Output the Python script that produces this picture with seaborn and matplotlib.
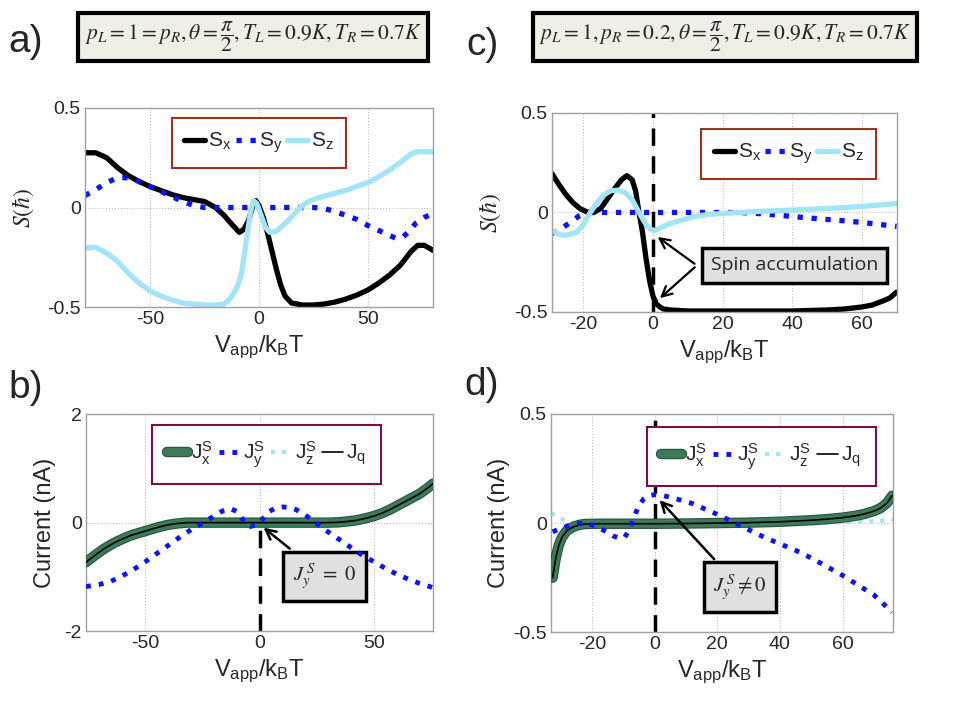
import numpy as np
import pandas as pd
import seaborn as sns
import matplotlib.pyplot as plt
import matplotlib.patheffects as pe

# ---------------- data ----------------
# panel a: spin accumulation, p_L = p_R = 1
xa_sx = [-80, -75, -70, -65, -60, -55, -50, -45, -40, -35, -30, -25, -20, -16, -12, -9, -7, -5, -3,
         -1.5, 0, 2, 4, 6, 8, 10, 12, 15, 20, 25, 30, 35, 40, 45, 50, 55, 60, 65, 70, 73, 76, 80]
sx_a = [0.275, 0.275, 0.25, 0.2, 0.16, 0.13, 0.105, 0.085, 0.065, 0.05, 0.04, 0.03, 0.0, -0.04, -0.09,
        -0.125, -0.11, -0.07, 0.0, 0.035, 0.01, -0.05, -0.13, -0.22, -0.31, -0.39, -0.445, -0.48, -0.49,
        -0.49, -0.485, -0.475, -0.46, -0.44, -0.415, -0.38, -0.34, -0.29, -0.22, -0.19, -0.19, -0.215]
xa_sy = [-80, -75, -70, -65, -60, -55, -50, -45, -40, -35, -30, -25, -20, -10, 0, 10, 20, 25, 30, 35,
         40, 45, 50, 55, 60, 63, 66, 69, 72, 76, 80]
sy_a = [0.06, 0.09, 0.125, 0.15, 0.15, 0.13, 0.105, 0.08, 0.055, 0.03, 0.01, 0.0, 0.0, 0.0, 0.0, 0.0,
        0.0, 0.0, -0.005, -0.02, -0.04, -0.06, -0.09, -0.115, -0.14, -0.155, -0.15, -0.12, -0.08, -0.05, -0.03]
xa_sz = [-80, -75, -70, -65, -60, -55, -50, -45, -40, -35, -30, -25, -20, -16, -13, -10, -8, -6, -4,
         -2.5, -1, 1, 3, 5, 8, 11, 14, 18, 22, 26, 31, 36, 41, 46, 51, 56, 61, 66, 70, 73, 76, 80]
sz_a = [-0.205, -0.2, -0.23, -0.27, -0.33, -0.38, -0.42, -0.445, -0.465, -0.48, -0.485, -0.49, -0.49,
        -0.485, -0.455, -0.4, -0.33, -0.18, -0.03, 0.035, 0.02, -0.04, -0.1, -0.125, -0.12, -0.09, -0.06,
        -0.01, 0.025, 0.045, 0.06, 0.075, 0.09, 0.11, 0.13, 0.16, 0.195, 0.235, 0.27, 0.28, 0.28, 0.28]

# panel c: spin accumulation, p_R = 0.2
xc_sx = [-29, -27, -25, -23, -21, -19, -17, -15, -13, -11, -9, -7.5, -6, -5, -4, -3, -2, -1, 0, 1, 2, 3,
         5, 10, 20, 30, 40, 50, 55, 60, 63, 66, 68, 70]
sx_c = [0.195, 0.14, 0.09, 0.05, 0.02, 0.003, 0.0, 0.02, 0.07, 0.12, 0.165, 0.185, 0.165, 0.11, 0.0,
        -0.1, -0.23, -0.34, -0.42, -0.46, -0.475, -0.485, -0.49, -0.495, -0.495, -0.495, -0.495, -0.49,
        -0.485, -0.475, -0.465, -0.445, -0.43, -0.4]
xc_sy = [-29, -27, -25, -23, -21, -19, -15, -10, 0, 10, 20, 25, 30, 35, 40, 45, 50, 55, 60, 65, 70]
sy_c = [-0.105, -0.09, -0.065, -0.04, -0.015, 0.0, 0.0, 0.0, 0.0, 0.0, 0.0, 0.0, -0.005, -0.012, -0.02,
        -0.028, -0.035, -0.042, -0.05, -0.06, -0.07]
xc_sz = [-29, -27, -25.5, -24, -22, -20, -18, -16, -14, -12, -10, -8, -6, -4, -2, -1, 0, 1, 3, 5, 8, 12,
         16, 20, 25, 30, 40, 50, 60, 70]
sz_c = [-0.09, -0.11, -0.115, -0.11, -0.1, -0.06, 0.0, 0.05, 0.09, 0.11, 0.112, 0.1, 0.065, 0.0, -0.06,
        -0.08, -0.09, -0.088, -0.07, -0.055, -0.04, -0.02, -0.01, -0.005, 0.0, 0.005, 0.012, 0.02, 0.03, 0.045]

# panel b: currents, p_L = p_R = 1 (J_z and J_q lie on top of J_x here)
xb_jx = [-76, -72, -68, -64, -60, -56, -52, -48, -44, -40, -36, -32, -20, 0, 20, 30, 34, 38, 42, 46, 50,
         54, 58, 62, 66, 70, 73, 76]
jx_b = [-0.73, -0.6, -0.48, -0.38, -0.3, -0.23, -0.18, -0.13, -0.08, -0.04, -0.015, 0.0, 0.0, 0.0, 0.0,
        0.0, 0.005, 0.02, 0.04, 0.075, 0.12, 0.18, 0.26, 0.35, 0.44, 0.53, 0.62, 0.72]
jq_b = jx_b
jz_b = jx_b
xb_jy = [-76, -70, -65, -60, -55, -50, -45, -40, -35, -30, -25, -20, -16, -13, -10, -8, -6, -4, -2, 0, 2,
         4, 7, 10, 13, 16, 20, 24, 28, 32, 36, 40, 45, 50, 55, 60, 65, 70, 76]
jy_b = [-1.18, -1.14, -1.08, -0.98, -0.86, -0.72, -0.57, -0.42, -0.27, -0.13, -0.01, 0.12, 0.22, 0.26,
        0.21, 0.1, -0.03, -0.07, -0.05, 0.0, 0.1, 0.2, 0.27, 0.29, 0.28, 0.24, 0.14, 0.02, -0.11, -0.23,
        -0.34, -0.46, -0.6, -0.72, -0.84, -0.95, -1.04, -1.12, -1.2]

# panel d: currents, p_R = 0.2
xd_jx = [-32.5, -31.5, -30.5, -29.5, -28, -26, -24, -22, -18, -10, 0, 10, 20, 30, 40, 50, 55, 60, 64,
         67, 70, 72, 74, 75.8]
jx_d = [-0.25, -0.16, -0.1, -0.065, -0.035, -0.018, -0.008, -0.004, -0.003, -0.003, -0.003, -0.002, 0.0,
        0.002, 0.006, 0.013, 0.018, 0.025, 0.033, 0.042, 0.055, 0.068, 0.09, 0.125]
jq_d = jx_d
xd_jy = [-32.5, -30, -27.5, -25, -22, -19, -16, -13, -11, -9.5, -8, -6.5, -5, -3.5, -2, 0, 3, 6, 9, 12,
         16, 20, 25, 30, 35, 40, 45, 50, 55, 60, 65, 70, 73, 75.8]
jy_d = [-0.04, -0.025, -0.012, -0.003, 0.0, -0.012, -0.035, -0.06, -0.07, -0.065, -0.03, 0.03, 0.08,
        0.11, 0.125, 0.13, 0.125, 0.115, 0.102, 0.09, 0.065, 0.04, 0.005, -0.03, -0.065, -0.095, -0.125,
        -0.16, -0.2, -0.24, -0.285, -0.33, -0.37, -0.41]
xd_jz = [-33, -31, -29, -27, -25, -20, 0, 20, 40, 60, 70, 76]
jz_d = [0.045, 0.03, 0.015, 0.005, 0.0, 0.0, 0.0, 0.0, 0.002, 0.005, 0.008, 0.015]

title_a = r'$p_L=1=p_R,\theta=\dfrac{\pi}{2},T_L=0.9K,T_R=0.7K$'
title_c = r'$p_L=1,p_R=0.2,\theta=\dfrac{\pi}{2},T_L=0.9K,T_R=0.7K$'

# ---------------- style ----------------
sns.set_style('white')
plt.rcParams['font.family'] = ['Liberation Sans Narrow', 'Liberation Sans', 'DejaVu Sans']
plt.rcParams['mathtext.fontset'] = 'custom'
plt.rcParams['mathtext.rm'] = 'Liberation Sans'
plt.rcParams['mathtext.it'] = 'Liberation Sans:italic'

c_sx, c_sy, c_sz = 'black', '#0a14ff', '#a3e4f8'
c_jx = '#3d7a59'
xlab = r'V$_\mathrm{app}$/k$_\mathrm{B}$T'

fig = plt.figure(figsize=(9.6, 7.2), dpi=100)
ax_a = fig.add_axes([0.0885, 0.5736, 0.3625, 0.2764])
ax_c = fig.add_axes([0.575, 0.5667, 0.359, 0.2764])
ax_b = fig.add_axes([0.0896, 0.1236, 0.3615, 0.301])
ax_d = fig.add_axes([0.574, 0.122, 0.356, 0.303])


def style_axes(ax, xlim, ylim, yticks, yticklabels, xticks):
    ax.set_xlim(*xlim)
    ax.set_ylim(*ylim)
    ax.set_xticks(xticks)
    ax.set_xticklabels([str(t) for t in xticks])
    ax.set_yticks(yticks)
    ax.set_yticklabels(yticklabels)
    ax.grid(True, ls=':', color='#c0c0c0', lw=0.8)
    for s in ax.spines.values():
        s.set_color('#a0a0a0')
        s.set_linewidth(1.0)
    ax.tick_params(direction='in', length=4, color='#a0a0a0', labelsize=14, pad=3)
    ax.set_xlabel(xlab, fontsize=17, labelpad=4)


def spin_panel(ax, d):
    for x, y, c, ls, lab in d:
        sns.lineplot(x=x, y=y, ax=ax, color=c, lw=3.8, linestyle=ls, sort=False,
                     label=lab, legend=False, estimator=None)
    leg = ax.legend(ncol=3, fontsize=15, handlelength=1.0, handletextpad=0.15,
                    columnspacing=0.2, frameon=True, fancybox=False, borderpad=0.6,
                    framealpha=1, loc='upper center', bbox_to_anchor=(0.5, 1.0))
    leg.get_frame().set_edgecolor('#99331a')
    leg.get_frame().set_linewidth(1.5)
    return leg


def current_panel(ax, xjx, jx, xjy, jy, xjz, jz, xjq, jq, loc, anchor):
    sns.lineplot(x=xjx, y=jx, ax=ax, color=c_jx, lw=6, sort=False, estimator=None,
                 label=r'J$^\mathrm{S}_\mathrm{x}$', legend=False, zorder=3,
                 path_effects=[pe.Stroke(linewidth=7.5, foreground='#24523a'), pe.Normal()])
    sns.lineplot(x=xjy, y=jy, ax=ax, color=c_sy, lw=3.5, linestyle=':', sort=False, estimator=None,
                 label=r'J$^\mathrm{S}_\mathrm{y}$', legend=False, zorder=4)
    sns.lineplot(x=xjz, y=jz, ax=ax, color=c_sz, lw=3, linestyle=':', sort=False, estimator=None,
                 label=r'J$^\mathrm{S}_\mathrm{z}$', legend=False, zorder=2)
    sns.lineplot(x=xjq, y=jq, ax=ax, color='black', lw=1.2, sort=False, estimator=None,
                 label=r'J$_\mathrm{q}$', legend=False, zorder=3.5)
    leg = ax.legend(ncol=4, fontsize=15, handlelength=1.0, handletextpad=0.15,
                    columnspacing=0.3, frameon=True, fancybox=False, borderpad=0.7,
                    framealpha=1, loc=loc, bbox_to_anchor=anchor)
    leg.get_frame().set_edgecolor('#7a1040')
    leg.get_frame().set_linewidth(1.5)
    leg.set_zorder(10)


# ---------------- panel a ----------------
spin_panel(ax_a, [(xa_sx, sx_a, c_sx, '-', r'S$_\mathrm{x}$'),
                  (xa_sy, sy_a, c_sy, ':', r'S$_\mathrm{y}$'),
                  (xa_sz, sz_a, c_sz, '-', r'S$_\mathrm{z}$')])
style_axes(ax_a, (-80, 80), (-0.5, 0.5), [-0.5, 0, 0.5], ['-0.5', '0', '0.5'], [-50, 0, 50])
ax_a.set_ylabel(r'$S(\hbar)$', fontsize=17, math_fontfamily='stix', labelpad=8)

# ---------------- panel c ----------------
ax_c.axvline(0, color='black', ls='--', lw=2.5, dashes=(5, 3), zorder=1)
spin_panel(ax_c, [(xc_sx, sx_c, c_sx, '-', r'S$_\mathrm{x}$'),
                  (xc_sy, sy_c, c_sy, ':', r'S$_\mathrm{y}$'),
                  (xc_sz, sz_c, c_sz, '-', r'S$_\mathrm{z}$')])
leg_c = ax_c.get_legend()
leg_c.set_bbox_to_anchor((0.97, 0.97))
leg_c._loc = 1
style_axes(ax_c, (-29, 70), (-0.5, 0.5), [-0.5, 0, 0.5], ['-0.5', '0', '0.5'], [-20, 0, 20, 40, 60])
ax_c.set_ylabel(r'$S(\hbar)$', fontsize=17, math_fontfamily='stix', labelpad=8)
box_kw = dict(boxstyle='square,pad=0.45', fc='#e0e0e0', ec='black', lw=2.5)
ax_c.text(40.7, -0.266, 'Spin accumulation', ha='center', va='center', fontsize=14,
          family=['Open Sans', 'DejaVu Sans'], bbox=box_kw, zorder=5)
for head in [(0.7, -0.115), (1.4, -0.44)]:
    ax_c.annotate('', xy=head, xytext=(12.6, -0.266),
                  arrowprops=dict(arrowstyle='->', lw=1.6, color='black', mutation_scale=18))

# ---------------- panel b ----------------
ax_b.plot([0, 0], [-2, -0.05], color='black', ls='--', lw=2.5, dashes=(5, 3), zorder=1)
current_panel(ax_b, xb_jx, jx_b, xb_jy, jy_b, xb_jx, jz_b, xb_jx, jq_b, 'upper center', (0.52, 1.0))
style_axes(ax_b, (-76, 76), (-2, 2), [-2, 0, 2], ['-2', '0', '2'], [-50, 0, 50])
ax_b.set_ylabel('Current (nA)', fontsize=17, family=['Liberation Sans', 'DejaVu Sans'], labelpad=6)
ax_b.annotate(r'$J_y^{\,S}\ =\ 0$', xy=(0.8, -0.06), xytext=(28.4, -0.99), ha='center', va='center',
              fontsize=15, math_fontfamily='stix', bbox=box_kw,
              arrowprops=dict(arrowstyle='->', lw=1.8, color='black', mutation_scale=18))

# ---------------- panel d ----------------
ax_d.axvline(0, color='black', ls='--', lw=2.5, dashes=(5, 3), zorder=1)
current_panel(ax_d, xd_jx, jx_d, xd_jy, jy_d, xd_jz, jz_d, xd_jx, jq_d, 'upper right', (0.98, 0.99))
style_axes(ax_d, (-33, 76), (-0.5, 0.5), [-0.5, 0, 0.5], ['-0.5', '0', '0.5'], [-20, 0, 20, 40, 60])
ax_d.set_ylabel('Current (nA)', fontsize=17, family=['Liberation Sans', 'DejaVu Sans'], labelpad=2)
ax_d.annotate(r'$J_y^{\,S}\neq 0$', xy=(1.0, 0.115), xytext=(27.3, -0.294), ha='center', va='center',
              fontsize=15, math_fontfamily='stix', bbox=box_kw,
              arrowprops=dict(arrowstyle='->', lw=1.8, color='black', mutation_scale=18))

# ---------------- titles and panel letters ----------------
tbox = dict(boxstyle='square,pad=0.3', fc='#efefe8', ec='black', lw=3)
fig.text(253 / 960, 1 - 37 / 720, title_a, ha='center', va='center', fontsize=15.5,
         math_fontfamily='stix', bbox=tbox)
fig.text(725 / 960, 1 - 37 / 720, title_c, ha='center', va='center', fontsize=15.5,
         math_fontfamily='stix', bbox=tbox)
letter_kw = dict(fontsize=28, family=['Liberation Sans', 'DejaVu Sans'], ha='left', va='center')
fig.text(8 / 960, 1 - 42 / 720, 'a)', **letter_kw)
fig.text(8 / 960, 1 - 388 / 720, 'b)', **letter_kw)
fig.text(466 / 960, 1 - 45 / 720, 'c)', **letter_kw)
fig.text(464 / 960, 1 - 385 / 720, 'd)', **letter_kw)

fig.savefig('out.png', dpi=100)
